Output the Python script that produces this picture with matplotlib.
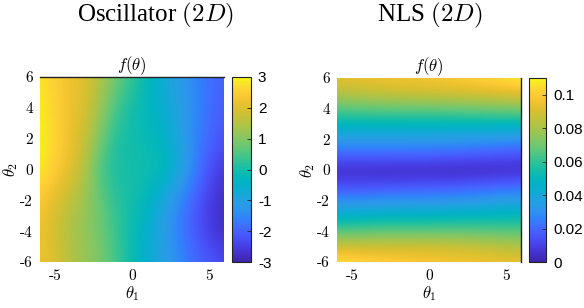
import numpy as np
import matplotlib
matplotlib.use("Agg")
import matplotlib.pyplot as plt
from matplotlib.colors import LinearSegmentedColormap

plt.rcParams['mathtext.fontset'] = 'cm'
plt.rcParams['axes.unicode_minus'] = False

# ---------------- data ----------------
panel_titles = ["Oscillator $(2D)$", "NLS $(2D)$"]
# Oscillator: rows theta2 = 6,4,...,-6 ; cols theta1 = -6,-5,...,6
osc_theta1 = [-6, -5, -4, -3, -2, -1, 0, 1, 2, 3, 4, 5, 6]
osc_theta2 = [6, 4, 2, 0, -2, -4, -6]
osc_values = [
    [2.8, 2.5, 2.2, 2.0, 1.4, 0.8, 0.3, -0.2, -0.7, -1.1, -1.5, -1.8, -2.0],
    [2.9, 2.6, 2.2, 1.9, 1.2, 0.4, 0.0, -0.3, -0.6, -1.0, -1.4, -1.8, -2.1],
    [3.0, 2.6, 2.2, 1.7, 0.8, 0.1, -0.05, -0.2, -0.4, -0.9, -1.5, -1.9, -2.2],
    [2.95, 2.5, 2.1, 1.4, 0.4, 0.05, 0.0, -0.05, -0.15, -0.7, -1.5, -2.2, -2.6],
    [2.4, 2.0, 1.6, 1.2, 0.7, 0.2, 0.0, -0.3, -0.9, -1.5, -2.0, -2.5, -2.8],
    [2.2, 1.8, 1.4, 1.1, 0.8, 0.3, -0.1, -0.6, -1.1, -1.6, -2.1, -2.5, -2.8],
    [2.2, 2.0, 1.5, 1.2, 0.9, 0.4, -0.1, -0.6, -1.0, -1.4, -1.8, -2.1, -2.3],
]
osc_clim = [-3, 3]
osc_cticks = [-3, -2, -1, 0, 1, 2, 3]

# NLS: rows theta2 = 6,5,...,-6 ; cols theta1 = -6,-4,...,6
nls_theta1 = [-6, -4, -2, 0, 2, 4, 6]
nls_theta2 = [6, 5, 4, 3, 2, 1, 0, -1, -2, -3, -4, -5, -6]
nls_values = [
    [0.093, 0.095, 0.097, 0.098, 0.100, 0.104, 0.110],
    [0.082, 0.085, 0.087, 0.088, 0.089, 0.091, 0.093],
    [0.066, 0.067, 0.068, 0.068, 0.069, 0.070, 0.072],
    [0.050, 0.050, 0.050, 0.050, 0.050, 0.050, 0.050],
    [0.034, 0.034, 0.034, 0.034, 0.033, 0.032, 0.030],
    [0.019, 0.019, 0.019, 0.019, 0.018, 0.016, 0.014],
    [0.004, 0.004, 0.003, 0.003, 0.002, 0.003, 0.004],
    [0.013, 0.013, 0.014, 0.015, 0.016, 0.018, 0.020],
    [0.029, 0.030, 0.031, 0.031, 0.032, 0.034, 0.036],
    [0.046, 0.047, 0.048, 0.048, 0.049, 0.050, 0.051],
    [0.066, 0.067, 0.068, 0.068, 0.068, 0.067, 0.066],
    [0.088, 0.088, 0.088, 0.088, 0.087, 0.085, 0.082],
    [0.108, 0.104, 0.101, 0.100, 0.098, 0.096, 0.094],
]
nls_clim = [0, 0.11]
nls_cticks = [0, 0.02, 0.04, 0.06, 0.08, 0.1]
nls_cticklabels = ["0", "0.02", "0.04", "0.06", "0.08", "0.1"]

xticks = [-5, 0, 5]
xticklabels = ["-5", "0", "5"]
yticks = [-6, -4, -2, 0, 2, 4, 6]
yticklabels = ["-6", "-4", "-2", "0", "2", "4", "6"]

# ---------------- parula-like colormap ----------------
parula_pts = [
    (0.000, (0.2422, 0.1504, 0.6603)),
    (0.039, (0.2621, 0.1837, 0.7800)),
    (0.078, (0.2769, 0.2352, 0.8811)),
    (0.118, (0.2807, 0.3006, 0.9560)),
    (0.157, (0.2757, 0.3654, 0.9926)),
    (0.196, (0.2470, 0.4352, 0.9988)),
    (0.235, (0.1889, 0.5110, 0.9802)),
    (0.275, (0.1786, 0.5732, 0.9361)),
    (0.314, (0.1539, 0.6154, 0.8994)),
    (0.353, (0.1033, 0.6478, 0.8632)),
    (0.392, (0.0447, 0.6769, 0.8178)),
    (0.431, (0.0062, 0.7036, 0.7659)),
    (0.471, (0.0316, 0.7263, 0.7085)),
    (0.502, (0.0851, 0.7425, 0.6603)),
    (0.549, (0.2004, 0.7637, 0.5784)),
    (0.588, (0.3064, 0.7748, 0.5153)),
    (0.627, (0.4170, 0.7800, 0.4526)),
    (0.667, (0.5180, 0.7772, 0.3875)),
    (0.706, (0.6092, 0.7714, 0.3258)),
    (0.745, (0.6937, 0.7642, 0.2686)),
    (0.784, (0.7739, 0.7566, 0.2226)),
    (0.824, (0.8527, 0.7524, 0.1897)),
    (0.863, (0.9254, 0.7605, 0.1840)),
    (0.902, (0.9836, 0.7884, 0.2052)),
    (0.941, (0.9932, 0.8399, 0.1941)),
    (0.980, (0.9745, 0.9201, 0.1375)),
    (1.000, (0.9769, 0.9839, 0.0805)),
]
parula = LinearSegmentedColormap.from_list("parula", parula_pts, N=256)

# ---------------- figure ----------------
W, H = 584, 308
fig = plt.figure(figsize=(W / 100, H / 100), dpi=100)

def frac(x0, y0, x1, y1):
    return [x0 / W, 1 - y1 / H, (x1 - x0) / W, (y1 - y0) / H]

serif_tick = dict(family='cmr10', size=11)

def panel(ax_box, cb_box, t1, t2, vals, clim, cticks, cticklabels, spine):
    ax = fig.add_axes(frac(*ax_box))
    z = np.array(vals, dtype=float)
    d1 = (t1[1] - t1[0]) / 2
    d2 = abs(t2[1] - t2[0]) / 2
    im = ax.imshow(z, cmap=parula, vmin=clim[0], vmax=clim[1],
                   extent=[t1[0] - d1, t1[-1] + d1, t2[-1] - d2, t2[0] + d2],
                   origin='upper', interpolation='bicubic', aspect='auto')
    ax.set_xlim(-6, 6)
    ax.set_ylim(-6, 6)
    ax.set_xticks(xticks)
    ax.set_xticklabels(xticklabels, fontdict=serif_tick)
    ax.set_yticks(yticks)
    ax.set_yticklabels(yticklabels, fontdict=serif_tick)
    ax.tick_params(length=0, pad=5)
    for s in ax.spines:
        ax.spines[s].set_visible(s == spine)
        ax.spines[s].set_linewidth(1.0)
        ax.spines[s].set_color('#222222')
    ax.set_xlabel(r'$\theta_1$', fontsize=12, labelpad=1)
    ax.set_ylabel(r'$\theta_2$', fontsize=12, labelpad=0)
    ax.set_title(r'$f(\theta)$', fontsize=12, pad=2)
    cax = fig.add_axes(frac(*cb_box))
    cb = fig.colorbar(im, cax=cax)
    cb.set_ticks(cticks)
    cb.set_ticklabels(cticklabels)
    cax.tick_params(direction='in', length=3, width=0.6, pad=5, colors='#222222')
    for lab in cax.get_yticklabels():
        lab.set_fontfamily('Liberation Sans')
        lab.set_fontsize(11)
        lab.set_color('black')
    cb.outline.set_linewidth(0.8)
    cb.outline.set_edgecolor('#222222')
    return ax

panel((40, 77, 224, 262), (232, 77, 251, 262), osc_theta1, osc_theta2,
      osc_values, osc_clim, osc_cticks, [str(v) for v in osc_cticks], 'top')
panel((337, 78, 521, 262), (529, 78, 546, 262), nls_theta1, nls_theta2,
      nls_values, nls_clim, nls_cticks, nls_cticklabels, 'right')

fig.text(155 / W, 1 - 15 / H, panel_titles[0], ha='center', va='center',
         fontsize=18, family='Liberation Serif')
fig.text(430 / W, 1 - 15 / H, panel_titles[1], ha='center', va='center',
         fontsize=18, family='Liberation Serif')

fig.savefig("out.png", dpi=100)
